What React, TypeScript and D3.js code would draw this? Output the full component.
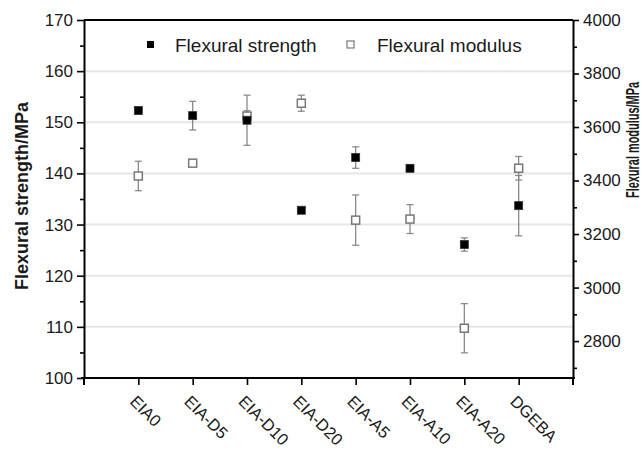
import React, { useEffect, useRef } from 'react';
import * as d3 from 'd3';

const categories = ['EIA0', 'EIA-D5', 'EIA-D10', 'EIA-D20', 'EIA-A5', 'EIA-A10', 'EIA-A20', 'DGEBA'];
const strength = [152.3, 151.3, 150.4, 132.8, 143.1, 141.0, 126.1, 133.7];
const strengthErr = [0.7, 2.8, 4.9, 0.3, 2.1, 0.6, 1.3, 5.9];
const modulus = [3417, 3465, 3641, 3689, 3252, 3256, 2848, 3446];
const modulusErr = [55, 8, 20, 30, 94, 54, 92, 44];
const leftTicks = [100, 110, 120, 130, 140, 150, 160, 170];
const leftMinor = [105, 115, 125, 135, 145, 155, 165];
const rightTicks = [2800, 3000, 3200, 3400, 3600, 3800, 4000];
const rightMinor = [2700, 2900, 3100, 3300, 3500, 3700, 3900];

const FONT = '"Liberation Sans", Arial, sans-serif';

export default function App() {
  const ref = useRef<SVGSVGElement>(null);

  useEffect(() => {
    const svg = d3.select(ref.current);
    svg.selectAll('*').remove();

    const left = 84, right = 573, top = 20, bottom = 378;

    const x = d3.scalePoint().domain(categories).range([left, right]).padding(1);
    const yL = d3.scaleLinear().domain([100, 170]).range([bottom, top]);
    const yR = d3.scaleLinear().domain([2662, 4000]).range([bottom, top]);

    // gridlines
    svg.append('g')
      .selectAll('line')
      .data(leftTicks.filter(d => d > 100 && d < 170))
      .join('line')
      .attr('x1', left).attr('x2', right)
      .attr('y1', d => yL(d)).attr('y2', d => yL(d))
      .attr('stroke', '#e6e6e6').attr('stroke-width', 2);

    // frame top
    svg.append('line')
      .attr('x1', left).attr('x2', right).attr('y1', top).attr('y2', top)
      .attr('stroke', '#000').attr('stroke-width', 2);

    const styleAxis = (g, size) => {
      g.select('.domain').attr('stroke', '#000').attr('stroke-width', 2);
      g.selectAll('.tick line').attr('stroke', '#000').attr('stroke-width', 1.6);
      g.selectAll('.tick text')
        .attr('font-family', FONT).attr('font-size', size).attr('fill', '#1a1a1a');
    };

    // left axis
    const gl = svg.append('g').attr('transform', `translate(${left},0)`);
    gl.call(d3.axisLeft(yL).tickValues(leftTicks).tickSize(7).tickSizeOuter(0).tickPadding(4));
    styleAxis(gl, 17);
    gl.append('g').call(d3.axisLeft(yL).tickValues(leftMinor).tickSize(4).tickFormat(() => ''))
      .call(g => { g.select('.domain').remove(); g.selectAll('line').attr('stroke', '#000').attr('stroke-width', 1.6); });

    // right axis
    const gr = svg.append('g').attr('transform', `translate(${right},0)`);
    gr.call(d3.axisRight(yR).tickValues(rightTicks).tickSize(6).tickSizeOuter(0).tickPadding(4).tickFormat(d3.format('d')));
    styleAxis(gr, 17);
    gr.append('g').call(d3.axisRight(yR).tickValues(rightMinor).tickSize(4).tickFormat(() => ''))
      .call(g => { g.select('.domain').remove(); g.selectAll('line').attr('stroke', '#000').attr('stroke-width', 1.6); });

    // bottom axis
    const gb = svg.append('g').attr('transform', `translate(0,${bottom})`);
    gb.call(d3.axisBottom(x).tickSize(7).tickSizeOuter(0).tickFormat(() => ''));
    styleAxis(gb, 17);
    gb.select('.domain').attr('d', `M${left - 3},0H${right + 2}`);
    gb.append('line').attr('x1', left).attr('x2', left).attr('y1', 0).attr('y2', 7)
      .attr('stroke', '#000').attr('stroke-width', 2);
    gb.append('line').attr('x1', right).attr('x2', right).attr('y1', 0).attr('y2', 7)
      .attr('stroke', '#000').attr('stroke-width', 2);

    gb.selectAll('.xlab')
      .data(categories)
      .join('text')
      .attr('class', 'xlab')
      .attr('transform', d => `translate(${x(d) - 1},${16}) rotate(45)`)
      .attr('dy', '0.72em')
      .attr('text-anchor', 'start')
      .attr('font-family', FONT)
      .attr('font-size', 16.5)
      .attr('fill', '#1a1a1a')
      .text(d => d);

    // error bars
    const drawErr = (vals, errs, scale, color) => {
      const g = svg.append('g').attr('stroke', color).attr('stroke-width', 1.3).attr('fill', 'none');
      categories.forEach((c, i) => {
        const cx = x(c);
        const y1 = scale(vals[i] + errs[i]);
        const y2 = scale(vals[i] - errs[i]);
        g.append('line').attr('x1', cx).attr('x2', cx).attr('y1', y1).attr('y2', y2);
        g.append('line').attr('x1', cx - 3.5).attr('x2', cx + 3.5).attr('y1', y1).attr('y2', y1);
        g.append('line').attr('x1', cx - 3.5).attr('x2', cx + 3.5).attr('y1', y2).attr('y2', y2);
      });
    };
    drawErr(modulus, modulusErr, yR, '#8a8a8a');
    drawErr(strength, strengthErr, yL, '#8a8a8a');

    // markers
    svg.append('g')
      .selectAll('rect')
      .data(modulus)
      .join('rect')
      .attr('x', (d, i) => x(categories[i]) - 4)
      .attr('y', d => yR(d) - 4)
      .attr('width', 8).attr('height', 8)
      .attr('fill', '#fff').attr('stroke', '#777').attr('stroke-width', 1.5);

    svg.append('g')
      .selectAll('rect')
      .data(strength)
      .join('rect')
      .attr('x', (d, i) => x(categories[i]) - 4)
      .attr('y', d => yL(d) - 4)
      .attr('width', 8).attr('height', 8)
      .attr('fill', '#000').attr('stroke', '#333').attr('stroke-width', 0.8);

    // legend
    const lg = svg.append('g').attr('font-family', FONT).attr('font-size', 19).attr('fill', '#1a1a1a');
    lg.append('rect').attr('x', 147).attr('y', 41).attr('width', 7).attr('height', 7).attr('fill', '#000');
    lg.append('text').attr('x', 175).attr('y', 51.5).text('Flexural strength');
    lg.append('rect').attr('x', 347).attr('y', 41).attr('width', 7).attr('height', 7)
      .attr('fill', '#fff').attr('stroke', '#777').attr('stroke-width', 1.2);
    lg.append('text').attr('x', 377).attr('y', 51.5).text('Flexural modulus');

    // axis titles
    svg.append('text')
      .attr('transform', 'translate(28,196) rotate(-90)')
      .attr('text-anchor', 'middle')
      .attr('font-family', FONT).attr('font-size', 18).attr('font-weight', 'bold').attr('fill', '#1a1a1a')
      .text('Flexural strength/MPa');

    svg.append('text')
      .attr('transform', 'translate(639,140) rotate(-90)')
      .attr('text-anchor', 'middle')
      .attr('font-family', FONT).attr('font-size', 18).attr('font-weight', 'bold').attr('fill', '#1a1a1a')
      .attr('textLength', 116).attr('lengthAdjust', 'spacingAndGlyphs')
      .text('Flexural modulus/MPa');
  }, []);

  return (
    <svg
      ref={ref}
      width={642}
      height={452}
      style={{ position: 'absolute', left: 0, top: 0, background: '#fff' }}
    />
  );
}
